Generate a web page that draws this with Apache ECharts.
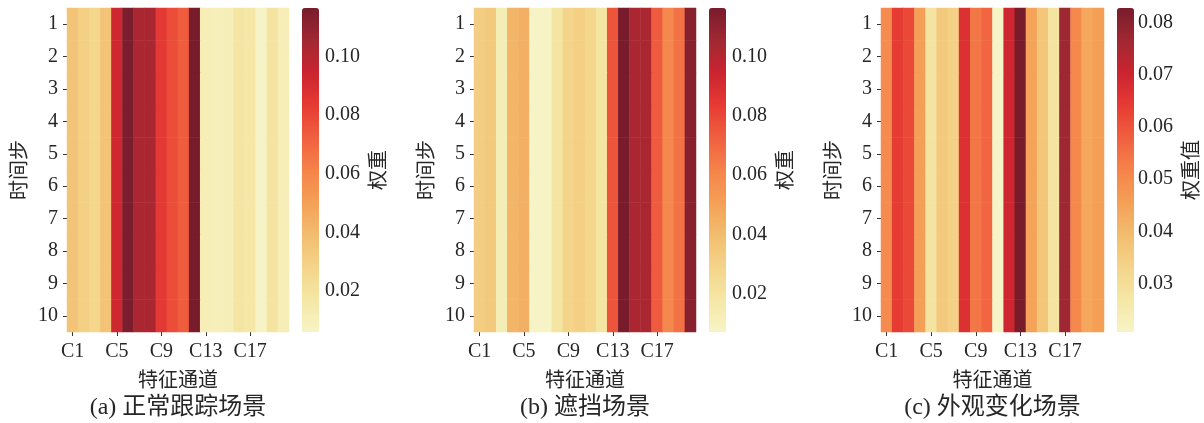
<!DOCTYPE html>
<html>
<head>
<meta charset="utf-8">
<script src="https://cdn.jsdelivr.net/npm/echarts@6/dist/echarts.min.js"></script>
<style>
  html, body { margin: 0; padding: 0; background: #fff; }
  #chart { width: 1204px; height: 423px; }
</style>
</head>
<body>
<div id="chart"></div>
<script>
// data: every time step has the same channel weight
const channels = ['C1','C2','C3','C4','C5','C6','C7','C8','C9','C10',
                  'C11','C12','C13','C14','C15','C16','C17','C18','C19','C20']
const timeSteps = ['1','2','3','4','5','6','7','8','9','10']

const weightsNormal = [0.036, 0.030, 0.027, 0.036, 0.093, 0.1155, 0.103, 0.103, 0.0845, 0.078,
                       0.0735, 0.1166, 0.0115, 0.010, 0.011, 0.018, 0.017, 0.006, 0.019, 0.0115]
const weightsOcclusion = [0.032, 0.034, 0.0125, 0.043, 0.045, 0.007, 0.0075, 0.019, 0.029, 0.031,
                          0.028, 0.019, 0.076, 0.1165, 0.103, 0.103, 0.074, 0.0595, 0.067, 0.112]
const weightsAppearance = [0.050, 0.064, 0.0617, 0.046, 0.028, 0.036, 0.034, 0.0667, 0.054, 0.057,
                           0.0207, 0.0698, 0.0828, 0.045, 0.037, 0.028, 0.077, 0.0505, 0.044, 0.046]

const ticksNormal = [0.02, 0.04, 0.06, 0.08, 0.10]
const ticksOcclusion = [0.02, 0.04, 0.06, 0.08, 0.10]
const ticksAppearance = [0.03, 0.04, 0.05, 0.06, 0.07, 0.08]

const captions = ['(a) 正常跟踪场景', '(b) 遮挡场景', '(c) 外观变化场景']
const colorbarNames = ['权重', '权重', '权重值']

const cmap = ['#f6f4c6', '#f5e7a6', '#f4d48a', '#f2bd6f', '#f4a057', '#f5834a',
              '#f0603f', '#e63a33', '#cb2430', '#a02832', '#781c2c']

const FONT = '"Liberation Serif", "Times New Roman", "Noto Sans CJK SC", serif'
const TEXT = '#262626'

const panels = [
    { weights: weightsNormal, ticks: ticksNormal, hmLeft: 67, hmWidth: 222, cbLeft: 302 },
    { weights: weightsOcclusion, ticks: ticksOcclusion, hmLeft: 474, hmWidth: 222, cbLeft: 709 },
    { weights: weightsAppearance, ticks: ticksAppearance, hmLeft: 881, hmWidth: 223, cbLeft: 1117 }
]

const TOP = 8
const HEIGHT = 324
const CB_WIDTH = 17

const option = {
    animation: false,
    backgroundColor: '#fff',
    textStyle: { fontFamily: FONT, color: TEXT },
    grid: [],
    xAxis: [],
    yAxis: [],
    visualMap: [],
    series: [],
    graphic: []
}

panels.forEach((p, i) => {
    const vmin = Math.min(...p.weights)
    const vmax = Math.max(...p.weights)
    const data = []
    timeSteps.forEach((t, r) => {
        p.weights.forEach((w, c) => data.push([c, r, w]))
    })

    // heatmap grid
    option.grid.push({ left: p.hmLeft, top: TOP, width: p.hmWidth, height: HEIGHT })
    // colorbar grid (only used for its tick axis)
    option.grid.push({ left: p.cbLeft, top: TOP, width: CB_WIDTH, height: HEIGHT })

    option.xAxis.push({
        type: 'category',
        gridIndex: i * 2,
        data: channels,
        name: '特征通道',
        nameLocation: 'middle',
        nameGap: 40,
        nameTextStyle: { fontSize: 20, fontFamily: FONT, color: TEXT },
        axisLine: { show: false },
        axisTick: { show: true, alignWithLabel: true, interval: 3, length: 4, lineStyle: { color: '#333' } },
        axisLabel: { interval: 3, margin: 10, fontSize: 20, fontFamily: FONT, color: TEXT },
        splitLine: { show: false }
    })
    option.xAxis.push({
        type: 'value', gridIndex: i * 2 + 1, show: false, min: 0, max: 1
    })

    option.yAxis.push({
        type: 'category',
        gridIndex: i * 2,
        data: timeSteps,
        inverse: true,
        name: '时间步',
        nameLocation: 'middle',
        nameRotate: 90,
        nameGap: 36,
        nameTextStyle: { fontSize: 20, fontFamily: FONT, color: TEXT },
        axisLine: { show: false },
        axisTick: { show: true, alignWithLabel: true, length: 4, lineStyle: { color: '#333' } },
        axisLabel: { margin: 9, fontSize: 20, fontFamily: FONT, color: TEXT },
        splitLine: { show: false }
    })
    option.yAxis.push({
        type: 'value',
        gridIndex: i * 2 + 1,
        position: 'right',
        min: vmin,
        max: vmax,
        name: colorbarNames[i],
        nameLocation: 'middle',
        nameRotate: 90,
        nameGap: 51,
        nameTextStyle: { fontSize: 20, fontFamily: FONT, color: TEXT },
        axisLine: { show: false },
        axisTick: { show: true, length: 4, customValues: p.ticks, lineStyle: { color: '#333' } },
        axisLabel: {
            customValues: p.ticks,
            margin: 6,
            fontSize: 20,
            fontFamily: FONT,
            color: TEXT,
            formatter: v => v.toFixed(2)
        },
        splitLine: { show: false }
    })

    option.visualMap.push({
        type: 'continuous',
        seriesIndex: i,
        min: vmin,
        max: vmax,
        calculable: false,
        hoverLink: false,
        orient: 'vertical',
        left: p.cbLeft,
        top: TOP,
        itemWidth: CB_WIDTH,
        itemHeight: HEIGHT,
        padding: 0,
        inRange: { color: cmap }
    })

    option.series.push({
        type: 'heatmap',
        xAxisIndex: i * 2,
        yAxisIndex: i * 2,
        data: data,
        emphasis: { disabled: true },
        progressive: 0
    })

    option.graphic.push({
        type: 'text',
        x: p.hmLeft + p.hmWidth / 2,
        y: 408,
        style: {
            text: captions[i],
            align: 'center',
            verticalAlign: 'middle',
            font: '24px ' + FONT,
            fill: TEXT
        }
    })
})

const chart = echarts.init(document.getElementById('chart'), null, { renderer: 'canvas' })
chart.setOption(option)
</script>
</body>
</html>
